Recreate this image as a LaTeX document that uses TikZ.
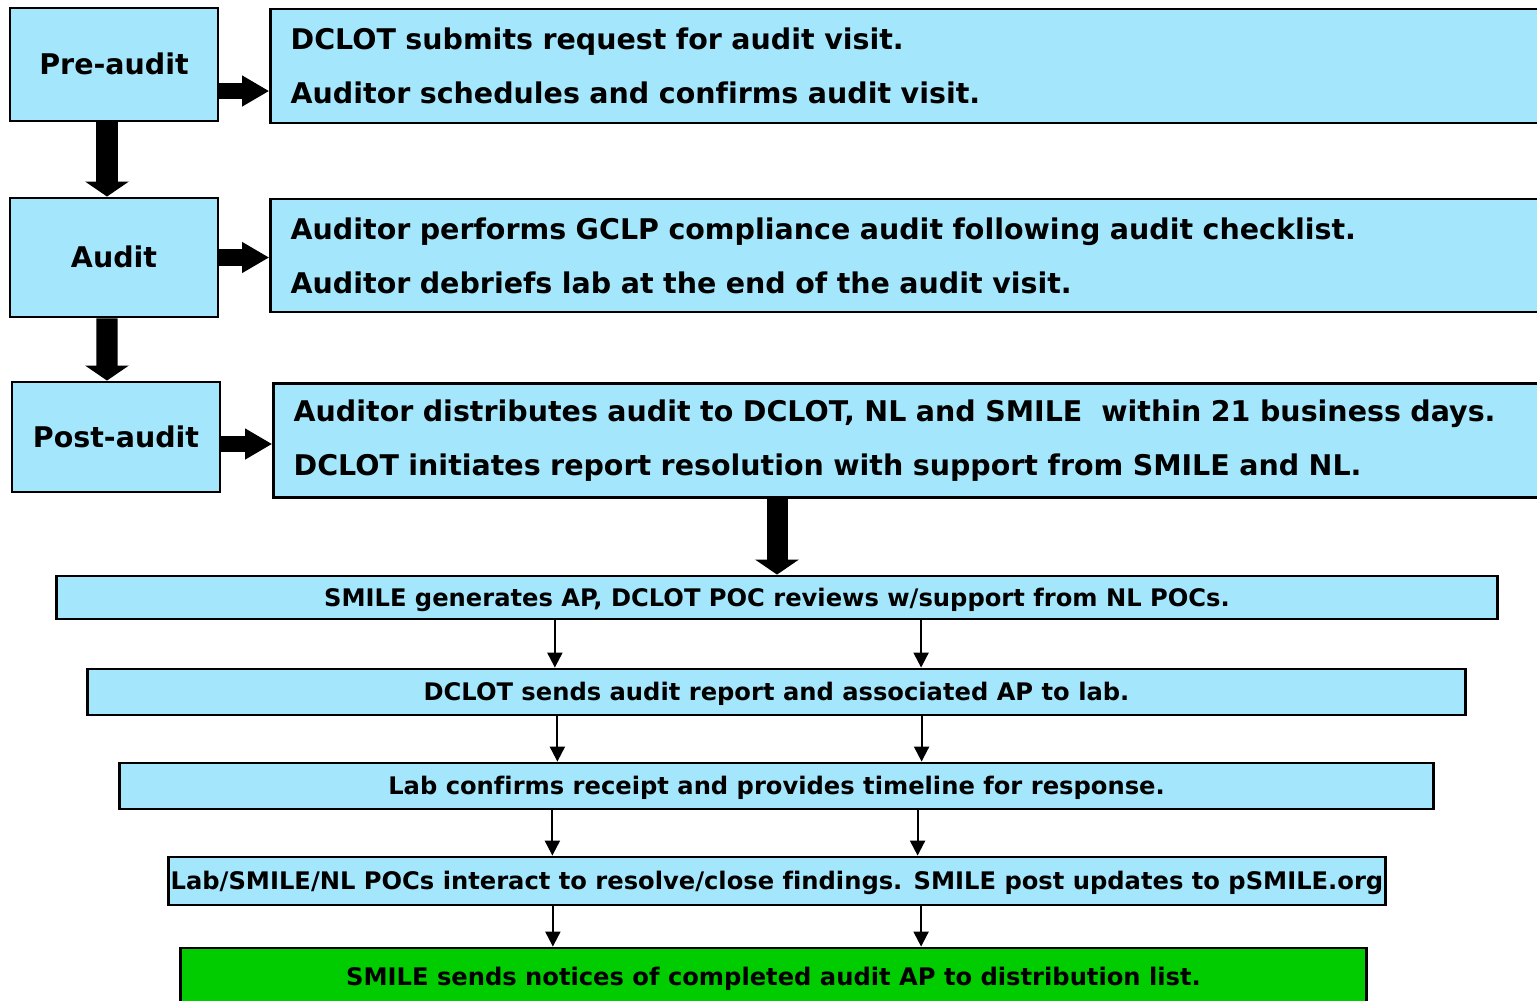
\documentclass[tikz,border=0pt]{standalone}
\usepackage{fontspec}
\setmainfont[Ligatures=NoCommon]{DejaVu Sans}
\usetikzlibrary{arrows.meta}
\definecolor{paleblue}{RGB}{164,231,253}
\definecolor{donegreen}{RGB}{0,204,0}
\tikzset{
  phase/.style={draw=black,line width=0.8pt,fill=paleblue,minimum width=2.08cm,minimum height=1.13cm,
    text height=5.9pt,text depth=0pt,font=\fontsize{8.1}{10}\selectfont\bfseries},
  task/.style={draw=black,line width=0.8pt,fill=paleblue,align=left,text width=12.34cm,inner xsep=0.2cm,
    minimum height=1.14cm,font=\fontsize{8.1}{15.4}\selectfont\bfseries},
  stepbox/.style={draw=black,line width=0.8pt,fill=paleblue,inner sep=0pt,text height=5pt,text depth=0pt,
    font=\fontsize{6.88}{9}\selectfont\bfseries},
  fatdown/.style={line width=0.21cm,-{Triangle[width=0.43cm,length=0.15cm]}},
  fatright/.style={line width=0.16cm,-{Triangle[width=0.29cm,length=0.27cm]}},
  slim/.style={line width=0.6pt,-{Triangle[width=0.15cm,length=0.15cm]}}
}
\begin{document}
\begin{tikzpicture}[x=0.01cm,y=-0.01cm]
		\useasboundingbox (0,0) rectangle (1537,1000);
		\clip (0,0) rectangle (1537,1000);
		% phases on the left
		\node[phase] (pre) at (114,64.5) {Pre-audit};
		\node[phase,minimum height=1.19cm] (aud) at (114,257.5) {Audit};
		\node[phase,minimum height=1.10cm] (post) at (116,437) {Post-audit};
		% what happens in each phase
		\node[task] (req) at (908,66) {DCLOT submits request for audit visit.\\Auditor schedules and confirms audit visit.};
		\node[task,minimum height=1.13cm] (perf) at (908,255.5) {Auditor performs GCLP compliance audit following audit checklist.\\Auditor debriefs lab at the end of the audit visit.};
		\node[task,text width=12.31cm] (dist) at (909.5,440.5) {Auditor distributes audit to DCLOT, NL and SMILE\ \ within 21 business days.\\DCLOT initiates report resolution with support from SMILE and NL.};
		% report resolution steps
		\node[stepbox,minimum width=14.40cm,minimum height=0.43cm] (ap) at (777,597.5) {SMILE generates AP, DCLOT POC reviews w/support from NL POCs.};
		\node[stepbox,minimum width=13.77cm,minimum height=0.46cm] (send) at (776.5,692) {DCLOT sends audit report and associated AP to lab.};
		\node[stepbox,minimum width=13.13cm,minimum height=0.46cm] (conf) at (776.5,786) {Lab confirms receipt and provides timeline for response.};
		\node[stepbox,minimum width=12.16cm,minimum height=0.48cm] (close) at (777,881) {Lab/SMILE/NL POCs interact to resolve/close findings. SMILE post updates to pSMILE.org};
		\node[stepbox,fill=donegreen,minimum width=11.85cm,minimum height=0.58cm] (done) at (773.5,977) {SMILE sends notices of completed audit AP to distribution list.};
		% big arrows
		\draw[fatdown] ([xshift=-0.07cm]pre.south) -- ([xshift=-0.07cm]aud.north);
		\draw[fatdown] ([xshift=-0.07cm]aud.south) -- ([xshift=-0.09cm]post.north);
		\draw[fatright] ([yshift=-0.265cm]pre.east) -- ([yshift=-0.265cm]pre.east -| req.west);
		\draw[fatright] (aud.east) -- (aud.east -| perf.west);
		\draw[fatright] ([yshift=-0.07cm]post.east) -- ([yshift=-0.07cm]post.east -| dist.west);
		\draw[fatdown] (dist.south -| ap.north) -- (ap.north);
		% thin arrows
		\draw[slim] ([xshift=-2.22cm]ap.south) -- ([xshift=-2.22cm]ap.south |- send.north);
		\draw[slim] ([xshift=1.44cm]ap.south) -- ([xshift=1.44cm]ap.south |- send.north);
		\draw[slim] ([xshift=-2.19cm]send.south) -- ([xshift=-2.19cm]send.south |- conf.north);
		\draw[slim] ([xshift=1.45cm]send.south) -- ([xshift=1.45cm]send.south |- conf.north);
		\draw[slim] ([xshift=-2.24cm]conf.south) -- ([xshift=-2.24cm]conf.south |- close.north);
		\draw[slim] ([xshift=1.41cm]conf.south) -- ([xshift=1.41cm]conf.south |- close.north);
		\draw[slim] ([xshift=-2.24cm]close.south) -- ([xshift=-2.24cm]close.south |- done.north);
		\draw[slim] ([xshift=1.44cm]close.south) -- ([xshift=1.44cm]close.south |- done.north);
\end{tikzpicture}
\end{document}
